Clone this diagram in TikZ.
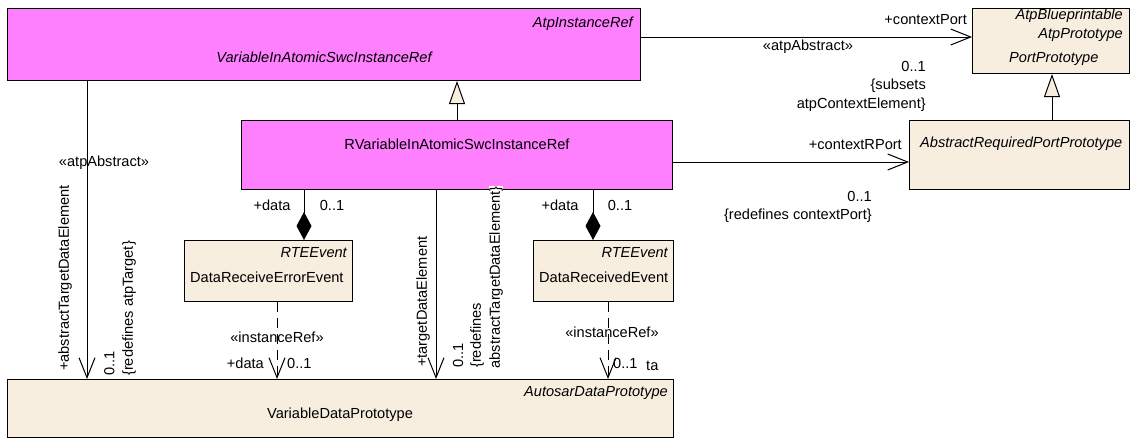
\documentclass[tikz,border=0pt]{standalone}
\usepackage{fontspec}
\setmainfont{Liberation Sans}
\usetikzlibrary{arrows.meta}
\definecolor{umlpink}{RGB}{255,128,255}
\definecolor{umlbeige}{RGB}{248,238,224}
\begin{document}
\begin{tikzpicture}[x=1pt,y=-1pt,
  every node/.style={font=\fontsize{14.6}{18.5}\selectfont, inner sep=1pt},
  box/.style={draw, line width=1pt, anchor=north west, inner sep=0pt},
  pinkbox/.style={box, fill=umlpink},
  beigebox/.style={box, fill=umlbeige},
  it/.style={font=\fontsize{14.6}{18.5}\selectfont\itshape},
  conn/.style={line width=1pt},
  assoc/.style={conn, -{Straight Barb[length=20pt,width=16pt,line width=1pt]}},
  gen/.style={conn, -{Triangle[length=23pt,width=16pt,fill=umlbeige,line width=1pt]}},
  comp/.style={conn, -{Diamond[length=28pt,width=15pt,fill=black]}},
  dep/.style={assoc, dash pattern=on 10pt off 6pt},
  vlabel/.style={rotate=90, anchor=west},
]
\useasboundingbox (0,0) rectangle (1132,439);

% boxes
\node[pinkbox, minimum width=633pt, minimum height=72pt] (var) at (7,8) {};
\node[it, anchor=east] (varst) at (634,24) {AtpInstanceRef};
\node[it] (varname) at (324,57) {VariableInAtomicSwcInstanceRef};

\node[beigebox, minimum width=157pt, minimum height=65pt] (port) at (972,8) {};
\node[it, anchor=east] (portst1) at (1124,16) {AtpBlueprintable};
\node[it, anchor=east] (portst2) at (1124,35) {AtpPrototype};
\node[it, anchor=west] (portname) at (1008,59) {PortPrototype};

\node[pinkbox, minimum width=431pt, minimum height=69pt] (rvar) at (241,120) {};
\node (rvarname) at (457,144) {RVariableInAtomicSwcInstanceRef};

\node[beigebox, minimum width=220pt, minimum height=69pt] (absreq) at (909,120) {};
\node[it, anchor=west] (absreqname) at (919,144) {AbstractRequiredPortPrototype};

\node[beigebox, minimum width=168pt, minimum height=61pt] (dre) at (184,240) {};
\node[it, anchor=east] (drest) at (348,253) {RTEEvent};
\node[anchor=west] (drename) at (189,277) {DataReceiveErrorEvent};

\node[beigebox, minimum width=140pt, minimum height=61pt] (dr) at (533,240) {};
\node[it, anchor=east] (drst) at (669,253) {RTEEvent};
\node[anchor=west] (drname) at (538,277) {DataReceivedEvent};

\node[beigebox, minimum width=666pt, minimum height=58pt] (vdp) at (7,379) {};
\node[it, anchor=east] (vdpst) at (669,393) {AutosarDataPrototype};
\node (vdpname) at (340,415) {VariableDataPrototype};

% helper coordinates
\coordinate (xg1) at (457,0);
\coordinate (xg2) at (1052,0);
\coordinate (xl) at (87,0);
\coordinate (xm) at (436,0);
\coordinate (xc1) at (304,0);
\coordinate (xc2) at (593,0);
\coordinate (xd1) at (277,0);
\coordinate (xd2) at (608,0);
\coordinate (yt) at (0,37);
\coordinate (ym) at (0,162);

% connectors
\draw[gen] (rvar.north -| xg1) -- (var.south -| xg1);
\draw[gen] (absreq.north -| xg2) -- (port.south -| xg2);
\draw[assoc] (var.east |- yt) -- (port.west |- yt);
\draw[assoc] (rvar.east |- ym) -- (absreq.west |- ym);
\draw[assoc] (var.south -| xl) -- (vdp.north -| xl);
\draw[assoc] (rvar.south -| xm) -- (vdp.north -| xm);
\draw[comp] (rvar.south -| xc1) -- (dre.north -| xc1);
\draw[comp] (rvar.south -| xc2) -- (dr.north -| xc2);
\draw[dep] (dre.south -| xd1) -- (vdp.north -| xd1);
\draw[dep] (dr.south -| xd2) -- (vdp.north -| xd2);

% labels
\node (lab1) at (104,163) {«atpAbstract»};
\node[anchor=east] (lab2) at (968,20) {+contextPort};
\node (lab3) at (808,47) {«atpAbstract»};
\node[anchor=east, align=right] (lab4) at (927,86) {0..1\\\{subsets\\atpContextElement\}};
\node[anchor=east] (lab5) at (903,145) {+contextRPort};
\node[anchor=east, align=right] (lab6) at (873,207) {0..1\\\{redefines contextPort\}};

\node[vlabel] (lab7) at (65,372) {+abstractTargetDataElement};
\node[vlabel, align=left] (lab8) at (120,377) {0..1\\\{redefines atpTarget\}};
\node[vlabel] (lab9) at (423,368) {+targetDataElement};
\node[vlabel] (lab10a) at (458,369) {0..1};
\node[vlabel] (lab10b) at (477,369) {\{redefines};
\node[vlabel, fill=white, inner sep=0.5pt] (lab10c) at (496,369) {abstractTargetDataElement\}};

\node (lab11) at (272,205) {+data};
\node (lab12) at (332,205) {0..1};
\node (lab13) at (560,205) {+data};
\node (lab14) at (620,205) {0..1};

\node (lab15) at (277,337) {«instanceRef»};
\node[anchor=east] (lab16) at (265,363) {+data};
\node[anchor=west] (lab17) at (286,363) {0..1};
\node (lab18) at (612,332) {«instanceRef»};
\node[anchor=west] (lab19) at (612,363) {0..1};
\node[anchor=west] (lab20) at (645,366) {ta};
\end{tikzpicture}
\end{document}
